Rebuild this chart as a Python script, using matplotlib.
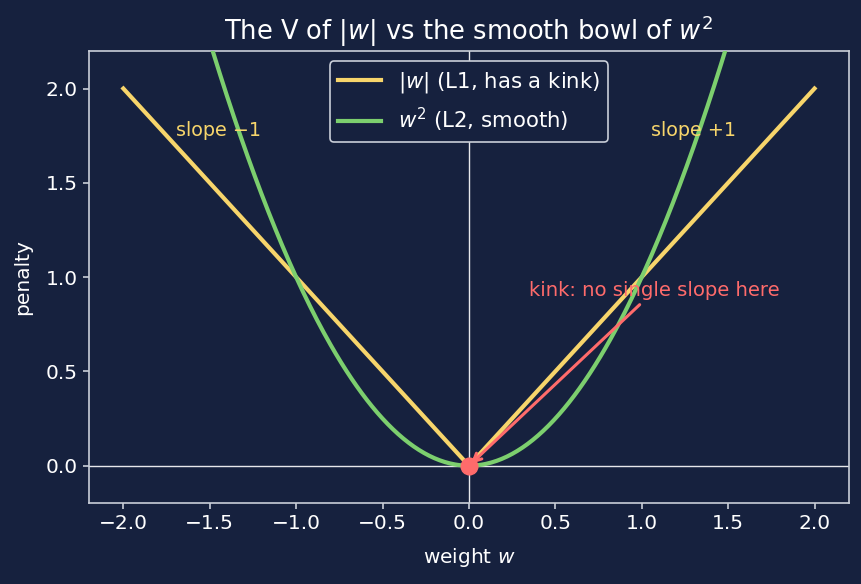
import numpy as np
import matplotlib
matplotlib.use("Agg")
import matplotlib.pyplot as plt

plt.rcParams["font.family"] = ["DejaVu Sans"]

w = np.linspace(-2, 2, 401)
l1 = np.abs(w)
l2 = w ** 2

bg = "#16213e"
fg = "white"
spine = "#c9ced8"
yellow = "#f7d56b"
green = "#7ccf6e"
red = "#ff6b6b"

fig, ax = plt.subplots(figsize=(8.62, 5.84), dpi=100)
fig.patch.set_facecolor(bg)
ax.set_facecolor(bg)

ax.axhline(0, color=fg, lw=1.0, alpha=0.9, zorder=1)
ax.axvline(0, color=fg, lw=1.0, alpha=0.9, zorder=1)
ax.plot(w, l1, color=yellow, lw=3, label=r"$|w|$ (L1, has a kink)", zorder=3)
ax.plot(w, l2, color=green, lw=3, label=r"$w^2$ (L2, smooth)", zorder=3)
ax.plot([0], [0], "o", color=red, ms=12, zorder=5)

ax.annotate("kink: no single slope here", xy=(0, 0), xytext=(0.35, 0.9),
            color=red, fontsize=14.1,
            arrowprops=dict(arrowstyle="->", color=red, lw=2.2), zorder=4)
ax.text(-1.45, 1.78, "slope −1", color=yellow, fontsize=13.8, ha="center", va="center")
ax.text(1.30, 1.78, "slope +1", color=yellow, fontsize=13.8, ha="center", va="center")

ax.set_xlim(-2.2, 2.2)
ax.set_ylim(-0.2, 2.2)
ax.set_xlabel(r"weight $w$", color=fg, fontsize=14.5, labelpad=9)
ax.set_ylabel("penalty", color=fg, fontsize=14.5, labelpad=10)
ax.set_title(r"The V of $|w|$ vs the smooth bowl of $w^2$", color=fg, fontsize=18.5, pad=8)
ax.tick_params(colors=spine, labelcolor=fg, labelsize=14.5, length=4.2, width=1.2)
for s in ax.spines.values():
    s.set_color(spine)
    s.set_linewidth(1.2)

leg = ax.legend(loc="upper center", fontsize=15.3, facecolor=bg, edgecolor=spine, framealpha=1)
leg.get_frame().set_linewidth(1.2)
for t in leg.get_texts():
    t.set_color(fg)

fig.subplots_adjust(left=0.103, right=0.985, top=0.913, bottom=0.138)
fig.savefig("out.png", dpi=100, facecolor=bg)
